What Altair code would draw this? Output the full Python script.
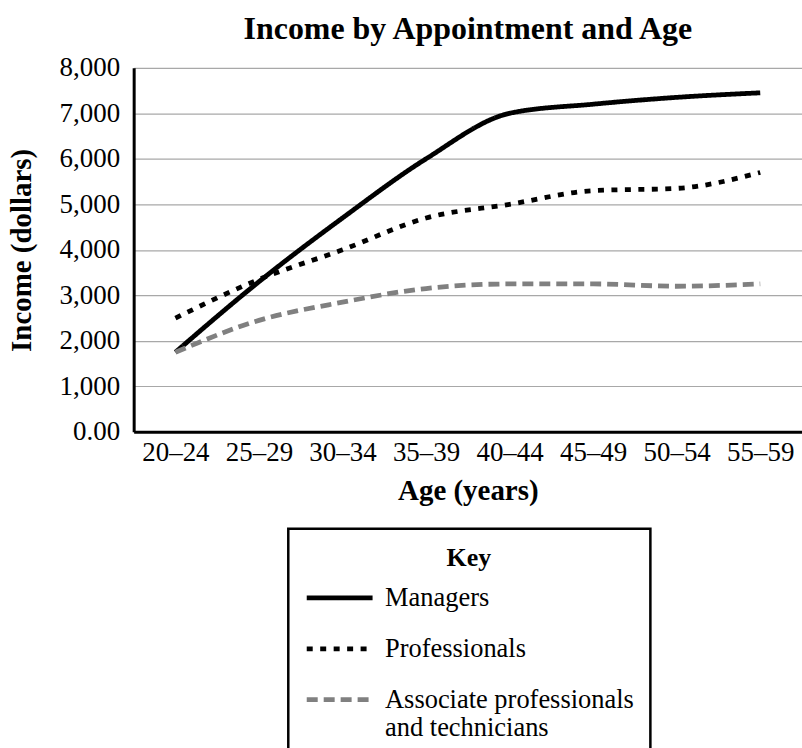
import altair as alt
import pandas as pd

# Age bands on the horizontal axis
age_groups = ["20–24", "25–29", "30–34", "35–39", "40–44", "45–49", "50–54", "55–59"]

# Monthly income (dollars) for each occupational group
managers = [1750, 3300, 4700, 6000, 7000, 7200, 7350, 7450]
professionals = [2500, 3350, 4000, 4700, 5000, 5300, 5350, 5700]
associates = [1750, 2450, 2850, 3150, 3250, 3250, 3200, 3250]

series_names = ["Managers", "Professionals", "Associate professionals and technicians"]
series_colors = ["#000000", "#000000", "#808080"]
series_dashes = [[1, 0], [6, 7.5], [11, 6]]

rows = []
for name, values in zip(series_names, [managers, professionals, associates]):
    for age, v in zip(age_groups, values):
        rows.append({"age": age, "income": v, "group": name})
df = pd.DataFrame(rows)

FONT = "Liberation Serif"

# the long group name is shown on two lines in the key
label_expr = (
    "datum.value == '" + series_names[2] + "' ? "
    "['Associate professionals', 'and technicians'] : datum.label"
)

legend = alt.Legend(
    title="Key",
    orient="none",
    legendX=155,
    legendY=462,
    direction="vertical",
    titleAnchor="middle",
    titleFont=FONT,
    titleFontSize=26,
    titleFontWeight="bold",
    titleColor="black",
    titlePadding=-8,
    labelFont=FONT,
    labelFontSize=26.5,
    labelColor="black",
    labelOffset=10,
    labelLimit=400,
    labelExpr=label_expr,
    symbolType="stroke",
    symbolSize=4356,
    symbolStrokeWidth=4.8,
    strokeColor="black",
    fillColor="white",
    padding=16,
    rowPadding=2,
)

chart = (
    alt.Chart(df)
    .mark_line(interpolate="monotone", strokeWidth=4.8, strokeCap="butt")
    .encode(
        x=alt.X(
            "age:N",
            sort=age_groups,
            bandPosition=0.5,
            scale=alt.Scale(type="band", paddingInner=0, paddingOuter=0),
            axis=alt.Axis(
                title="Age (years)",
                labelAngle=0,
                tickBand="extent",
                ticks=False,
                labelPadding=8,
                titlePadding=11,
            ),
        ),
        y=alt.Y(
            "income:Q",
            scale=alt.Scale(domain=[0, 8000], nice=False),
            axis=alt.Axis(
                title="Income (dollars)",
                values=list(range(0, 8001, 1000)),
                labelExpr="datum.value == 0 ? '0.00' : format(datum.value, ',')",
                ticks=False,
                labelPadding=14,
                titlePadding=23,
            ),
        ),
        color=alt.Color(
            "group:N",
            sort=series_names,
            scale=alt.Scale(domain=series_names, range=series_colors),
            legend=legend,
        ),
        strokeDash=alt.StrokeDash(
            "group:N",
            sort=series_names,
            scale=alt.Scale(domain=series_names, range=series_dashes),
            legend=legend,
        ),
    )
    .properties(
        width=670,
        height=365,
        title=alt.TitleParams(
            "Income by Appointment and Age",
            font=FONT,
            fontSize=32,
            fontWeight="bold",
            color="black",
            anchor="middle",
            offset=8,
        ),
        padding={"left": 7, "top": 12, "right": 0, "bottom": 0},
    )
    .configure_view(stroke=None)
    .configure_legend(strokeWidth=2.5)
    .configure_axis(
        labelFont=FONT,
        labelFontSize=27,
        labelColor="black",
        titleFont=FONT,
        titleFontSize=29,
        titleFontWeight="bold",
        titleColor="black",
        domainColor="black",
        domainWidth=3,
        gridColor="#a8a8a8",
        gridWidth=1.2,
    )
)

chart.save("out.html", embed_options={"renderer": "svg", "actions": False})
